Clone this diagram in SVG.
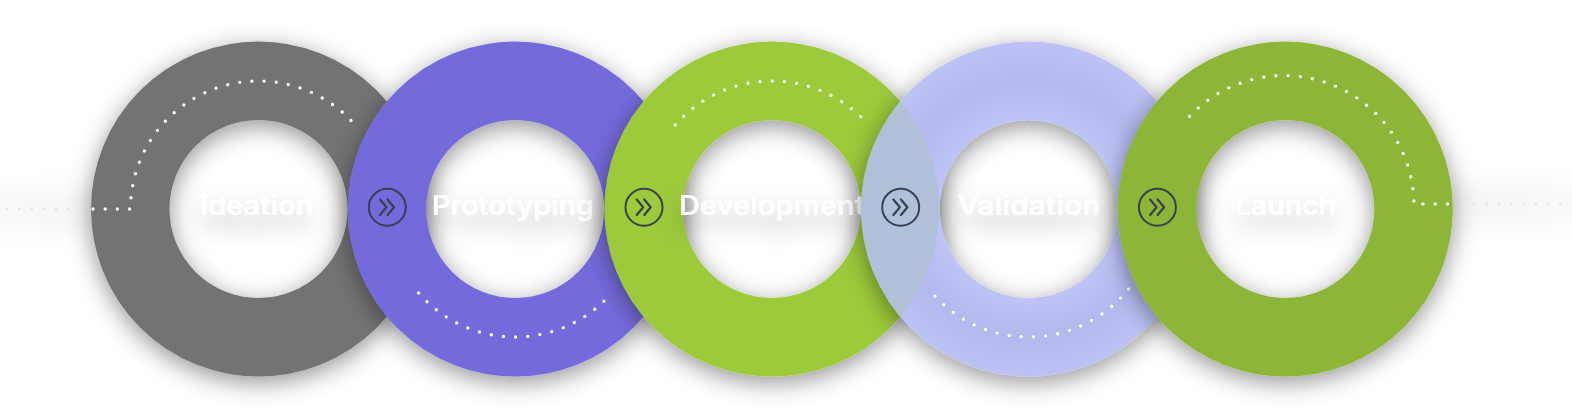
<svg xmlns="http://www.w3.org/2000/svg" width="1572" height="414" viewBox="0 0 1572 414">
  <style>
    .ring { fill: none; stroke-width: 78.5; filter: url(#shadow); }
    .dots { fill: none; stroke: #ffffff; stroke-width: 3.4; stroke-linecap: round; stroke-dasharray: 0 12.2; }
    .faint { fill: none; stroke: #e6e6e6; stroke-width: 3; stroke-linecap: round; stroke-dasharray: 0 12.3; }
    .label { font-family: "Inter", "Noto Sans", "Liberation Sans", sans-serif; font-weight: 600; font-size: 27px; fill: #ffffff; text-anchor: middle; filter: url(#tshadow); }
    .icon circle { fill: none; stroke: #3b3e50; stroke-width: 2; }
    .icon polyline { fill: none; stroke: #3b3e50; stroke-width: 2.2; stroke-linecap: round; stroke-linejoin: round; }
  </style>
  <defs>
    <filter id="shadow" x="-30%" y="-30%" width="160%" height="160%">
      <feDropShadow dx="0" dy="6" stdDeviation="12" flood-color="#000" flood-opacity="0.42"/>
    </filter>
    <filter id="tshadow" x="-40%" y="-150%" width="180%" height="400%">
      <feDropShadow dx="0" dy="11" stdDeviation="12" flood-color="#000" flood-opacity="0.28"/>
    </filter>
    <filter id="blur" x="-50%" y="-100%" width="200%" height="300%">
      <feGaussianBlur stdDeviation="12"/>
    </filter>
    <radialGradient id="lav" gradientUnits="userSpaceOnUse" cx="1028.6" cy="209" r="167.5">
      <stop offset="0.53" stop-color="#bec4f6"/>
      <stop offset="0.76" stop-color="#b3b9ed"/>
      <stop offset="1" stop-color="#bcc2f4"/>
    </radialGradient>
    <linearGradient id="bandL" x1="0" y1="0" x2="1" y2="0">
      <stop offset="0" stop-color="#000" stop-opacity="0.02"/>
      <stop offset="1" stop-color="#000" stop-opacity="0.05"/>
    </linearGradient>
    <linearGradient id="bandR" x1="0" y1="0" x2="1" y2="0">
      <stop offset="0" stop-color="#000" stop-opacity="0.05"/>
      <stop offset="1" stop-color="#000" stop-opacity="0.02"/>
    </linearGradient>
    <clipPath id="lavClip">
      <circle cx="1028.6" cy="209" r="167.5"/>
    </clipPath>
  </defs>

  <rect width="1572" height="414" fill="#ffffff"/>

  <g id="bands">
    <rect x="-30" y="190" width="150" height="40" fill="url(#bandL)" filter="url(#blur)"/>
    <rect x="1440" y="184" width="160" height="40" fill="url(#bandR)" filter="url(#blur)"/>
  </g>

  <g id="node-ideation">
    <circle class="ring" cx="258.5" cy="209" r="128.25" stroke="#737373"/>
    <path class="dots" d="M 93 209 H 130.5 A 128 128 0 0 1 352.6 122.2"/>
    <text class="label" x="257" y="215" textLength="113" lengthAdjust="spacingAndGlyphs">ideation</text>
  </g>

  <g id="node-prototyping">
    <circle class="ring" cx="515.2" cy="209" r="128.25" stroke="#746adc"/>
    <path class="dots" d="M 418.6 293 A 128 128 0 0 0 611.8 293"/>
    <text class="label" x="513" y="215" textLength="162" lengthAdjust="spacingAndGlyphs">Prototyping</text>
  </g>

  <g id="node-development">
    <circle class="ring" cx="771.9" cy="209" r="128.25" stroke="#9cca3b"/>
    <path class="dots" d="M 675.3 125 A 128 128 0 0 1 868.5 125"/>
    <text class="label" x="772" y="215" textLength="186" lengthAdjust="spacingAndGlyphs">Development</text>
  </g>

  <g id="node-validation">
    <circle class="ring" cx="1028.6" cy="209" r="128.25" stroke="url(#lav)"/>
    <circle cx="771.9" cy="209" r="167.5" fill="#afc0d8" clip-path="url(#lavClip)"/>
    <path class="dots" d="M 935 296.3 A 128 128 0 0 0 1129.5 287.8"/>
    <text class="label" x="1029" y="215" textLength="143" lengthAdjust="spacingAndGlyphs">Validation</text>
  </g>

  <g id="node-launch">
    <circle class="ring" cx="1285.3" cy="209" r="128.25" stroke="#8db538"/>
    <path class="dots" d="M 1189.5 116.3 A 130 130 0 0 1 1414 204 H 1450"/>
    <text class="label" x="1285.5" y="215" textLength="101" lengthAdjust="spacingAndGlyphs">Launch</text>
  </g>

  <g id="connectors">
    <path class="faint" d="M 7 209 H 82"/>
    <path class="faint" d="M 1462 204 H 1572"/>
    <g class="icon">
      <circle cx="387.3" cy="207.3" r="18.5"/>
      <polyline points="380,199.5 386.5,207.3 380,215"/>
      <polyline points="387.5,199.5 394,207.3 387.5,215"/>
    </g>
    <g class="icon">
      <circle cx="644" cy="207.3" r="18.5"/>
      <polyline points="636.7,199.5 643.2,207.3 636.7,215"/>
      <polyline points="644.2,199.5 650.7,207.3 644.2,215"/>
    </g>
    <g class="icon">
      <circle cx="900.7" cy="207.3" r="18.5"/>
      <polyline points="893.4,199.5 899.9,207.3 893.4,215"/>
      <polyline points="900.9,199.5 907.4,207.3 900.9,215"/>
    </g>
    <g class="icon">
      <circle cx="1157.4" cy="207.3" r="18.5"/>
      <polyline points="1150.1,199.5 1156.6,207.3 1150.1,215"/>
      <polyline points="1157.6,199.5 1164.1,207.3 1157.6,215"/>
    </g>
  </g>
</svg>
